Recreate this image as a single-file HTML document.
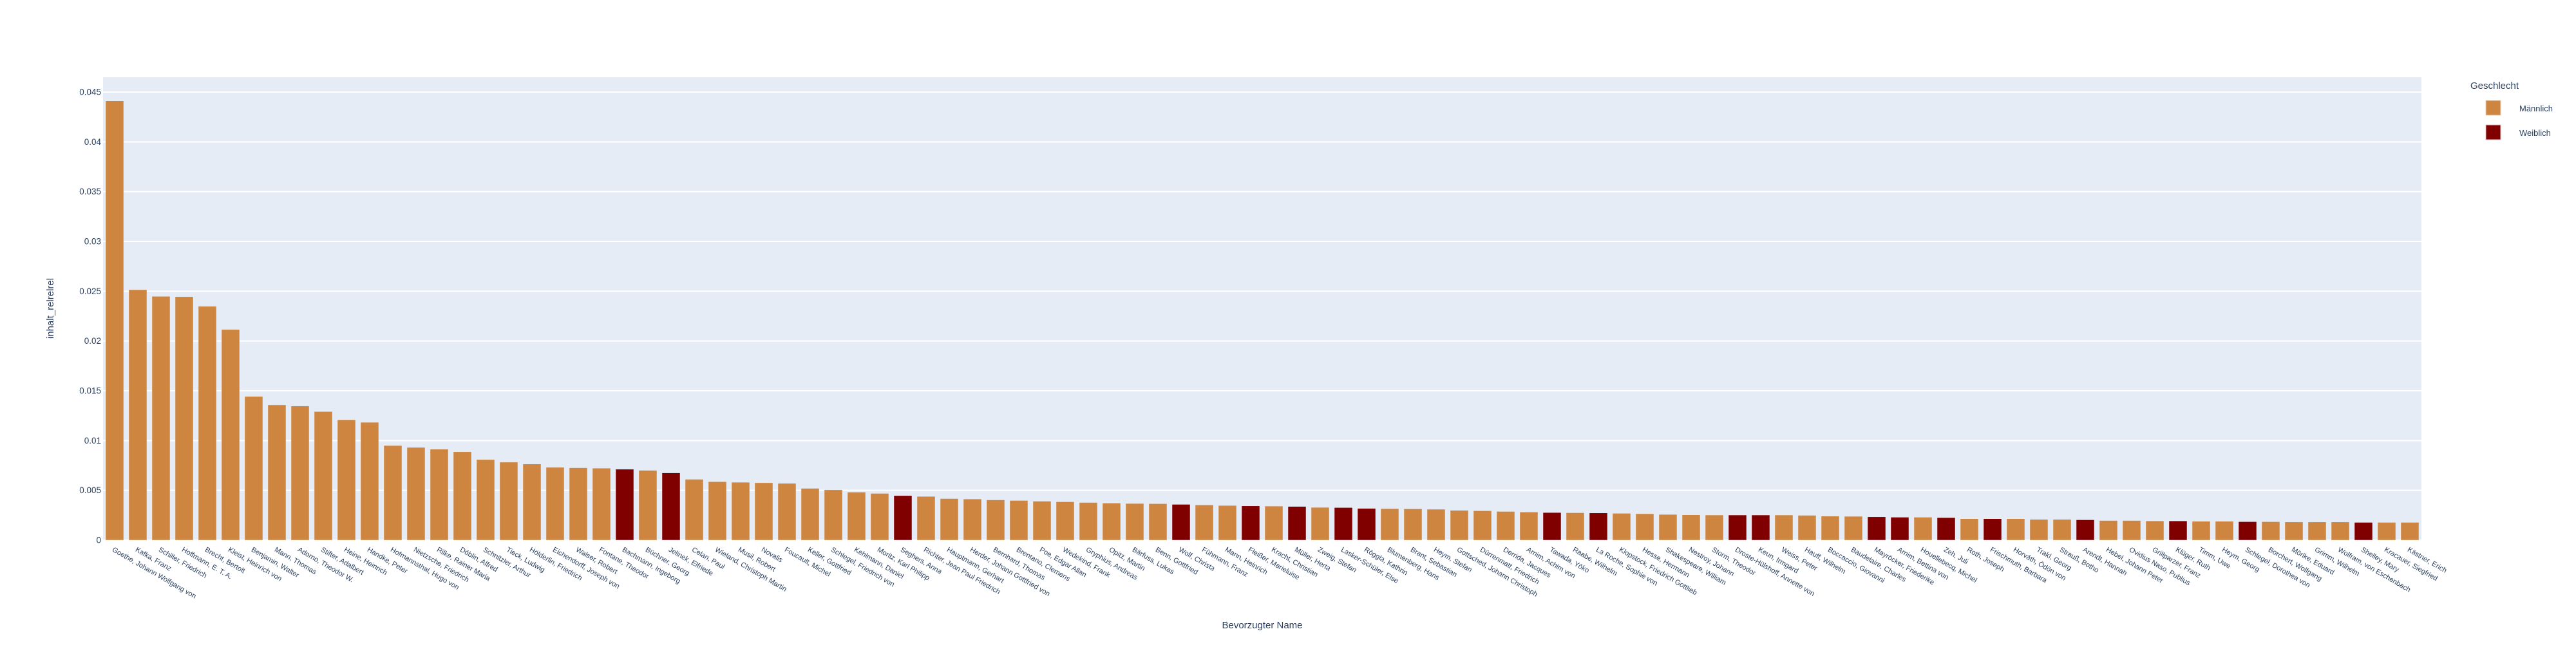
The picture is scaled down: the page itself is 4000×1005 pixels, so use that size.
<!DOCTYPE html>
<html><head><meta charset="utf-8"><style>
html,body{margin:0;padding:0;background:#fff;}
svg text{font-family:"Liberation Sans",sans-serif;fill:#2a3f5f;}
</style></head><body>
<svg id="chart" width="4000" height="1000" viewBox="0 0 4000 1000" xmlns="http://www.w3.org/2000/svg">
<rect x="0" y="0" width="4000" height="1000" fill="#fff"/>
<rect x="160" y="120" width="3600" height="719" fill="#E5ECF6"/>
<g id="grid"></g>
<g id="bars"></g>
<g id="yticks"></g>
<g id="xticks"></g>
<text x="83" y="479" font-size="15" text-anchor="middle" transform="rotate(-90 83 479)">inhalt_relrelrel</text>
<text x="1960" y="976" font-size="15" text-anchor="middle">Bevorzugter Name</text>
<g>
<text x="3836" y="138" font-size="15">Geschlecht</text>
<g>
<rect x="3860" y="156" width="23" height="23" fill="#cd853f" stroke="#e8d0c0" stroke-width="1"/>
<text x="3912" y="173" font-size="13">Männlich</text></g>
<g>
<rect x="3860" y="194" width="23" height="23" fill="#800000" stroke="#e0c0c0" stroke-width="1"/>
<text x="3912" y="211" font-size="13">Weiblich</text></g>
</g>
</svg>
<script>
const names = ["Goethe, Johann Wolfgang von","Kafka, Franz","Schiller, Friedrich","Hoffmann, E. T. A.","Brecht, Bertolt","Kleist, Heinrich von","Benjamin, Walter","Mann, Thomas","Adorno, Theodor W.","Stifter, Adalbert","Heine, Heinrich","Handke, Peter","Hofmannsthal, Hugo von","Nietzsche, Friedrich","Rilke, Rainer Maria","Döblin, Alfred","Schnitzler, Arthur","Tieck, Ludwig","Hölderlin, Friedrich","Eichendorff, Joseph von","Walser, Robert","Fontane, Theodor","Bachmann, Ingeborg","Büchner, Georg","Jelinek, Elfriede","Celan, Paul","Wieland, Christoph Martin","Musil, Robert","Novalis","Foucault, Michel","Keller, Gottfried","Schlegel, Friedrich von","Kehlmann, Daniel","Moritz, Karl Philipp","Seghers, Anna","Richter, Jean Paul Friedrich","Hauptmann, Gerhart","Herder, Johann Gottfried von","Bernhard, Thomas","Brentano, Clemens","Poe, Edgar Allan","Wedekind, Frank","Gryphius, Andreas","Opitz, Martin","Bärfuss, Lukas","Benn, Gottfried","Wolf, Christa","Fühmann, Franz","Mann, Heinrich","Fleißer, Marieluise","Kracht, Christian","Müller, Herta","Zweig, Stefan","Lasker-Schüler, Else","Röggla, Kathrin","Blumenberg, Hans","Brant, Sebastian","Heym, Stefan","Gottsched, Johann Christoph","Dürrenmatt, Friedrich","Derrida, Jacques","Arnim, Achim von","Tawada, Yōko","Raabe, Wilhelm","La Roche, Sophie von","Klopstock, Friedrich Gottlieb","Hesse, Hermann","Shakespeare, William","Nestroy, Johann","Storm, Theodor","Droste-Hülshoff, Annette von","Keun, Irmgard","Weiss, Peter","Hauff, Wilhelm","Boccaccio, Giovanni","Baudelaire, Charles","Mayröcker, Friederike","Arnim, Bettina von","Houellebecq, Michel","Zeh, Juli","Roth, Joseph","Frischmuth, Barbara","Horváth, Ödön von","Trakl, Georg","Strauß, Botho","Arendt, Hannah","Hebel, Johann Peter","Ovidius Naso, Publius","Grillparzer, Franz","Klüger, Ruth","Timm, Uwe","Heym, Georg","Schlegel, Dorothea von","Borchert, Wolfgang","Mörike, Eduard","Grimm, Wilhelm","Wolfram, von Eschenbach","Shelley, Mary","Kracauer, Siegfried","Kästner, Erich"];
const values = [0.04411,0.02515,0.02448,0.02445,0.02348,0.02115,0.01443,0.01358,0.01347,0.01291,0.01209,0.01183,0.0095,0.00931,0.00913,0.00887,0.00809,0.00783,0.00764,0.00731,0.00727,0.00723,0.00712,0.00701,0.00675,0.00611,0.00587,0.00581,0.00576,0.0057,0.0052,0.00505,0.00482,0.00469,0.00447,0.00439,0.00417,0.00413,0.00404,0.00398,0.00391,0.00385,0.00378,0.00372,0.00368,0.00366,0.00359,0.00353,0.00348,0.00344,0.00342,0.00338,0.00329,0.00327,0.00318,0.00316,0.00314,0.0031,0.00299,0.00295,0.00288,0.00282,0.00277,0.00275,0.00273,0.00269,0.00265,0.00258,0.00254,0.00252,0.00252,0.00252,0.00252,0.00249,0.00241,0.00239,0.00234,0.0023,0.0023,0.00226,0.00215,0.00215,0.00215,0.00208,0.00208,0.00204,0.00197,0.00197,0.00193,0.00193,0.00189,0.00189,0.00185,0.00185,0.00182,0.00182,0.00182,0.00178,0.00178,0.00178];
const gender = ["M","M","M","M","M","M","M","M","M","M","M","M","M","M","M","M","M","M","M","M","M","M","W","M","W","M","M","M","M","M","M","M","M","M","W","M","M","M","M","M","M","M","M","M","M","M","W","M","M","W","M","W","M","W","W","M","M","M","M","M","M","M","W","M","W","M","M","M","M","M","W","W","M","M","M","M","W","W","M","W","M","W","M","M","M","W","M","M","M","W","M","M","W","M","M","M","M","W","M","M"];
const yTicks = [0,0.005,0.01,0.015,0.02,0.025,0.03,0.035,0.04,0.045];
const yTickLabels = ["0","0.005","0.01","0.015","0.02","0.025","0.03","0.035","0.04","0.045"];

const NS="http://www.w3.org/2000/svg";
const plotL=160, plotR=3760, plotB=839, pxPerUnit=15467;
const band=(plotR-plotL)/names.length;
function xScale(i){return plotL+band*i;}
function yScale(v){return plotB-v*pxPerUnit;}
function mk(tag,attrs){const e=document.createElementNS(NS,tag);for(const k in attrs)e.setAttribute(k,attrs[k]);return e;}
const grid=document.getElementById('grid'),bars=document.getElementById('bars'),yt=document.getElementById('yticks'),xt=document.getElementById('xticks');
yTicks.forEach((t,k)=>{
  const y=yScale(t);
  const l=mk('line',{x1:plotL,x2:plotR,y1:y,y2:y,stroke:'#fff','stroke-width':2});
  
  
  grid.appendChild(l);
  const tx=mk('text',{x:157,y:y+4.5,'font-size':13.5,'text-anchor':'end'});
  tx.textContent=yTickLabels[k];
  
  
  yt.appendChild(tx);
});
const colors={M:'#cd853f',W:'#800000'};
values.forEach((v,i)=>{
  const x=xScale(i)+4, w=band-8, y=yScale(v);
  const r=mk('rect',{x:x,y:y,width:w,height:plotB-y,fill:colors[gender[i]],stroke:'#E5ECF6','stroke-width':0.5});
  
  
  bars.appendChild(r);
  const cx=xScale(i)+band/2;
  const t=mk('text',{x:cx,y:857,'font-size':11,transform:'rotate(30 '+cx+' 848)'});
  t.textContent=names[i];
  
  
  xt.appendChild(t);
});
</script>
</body></html>
